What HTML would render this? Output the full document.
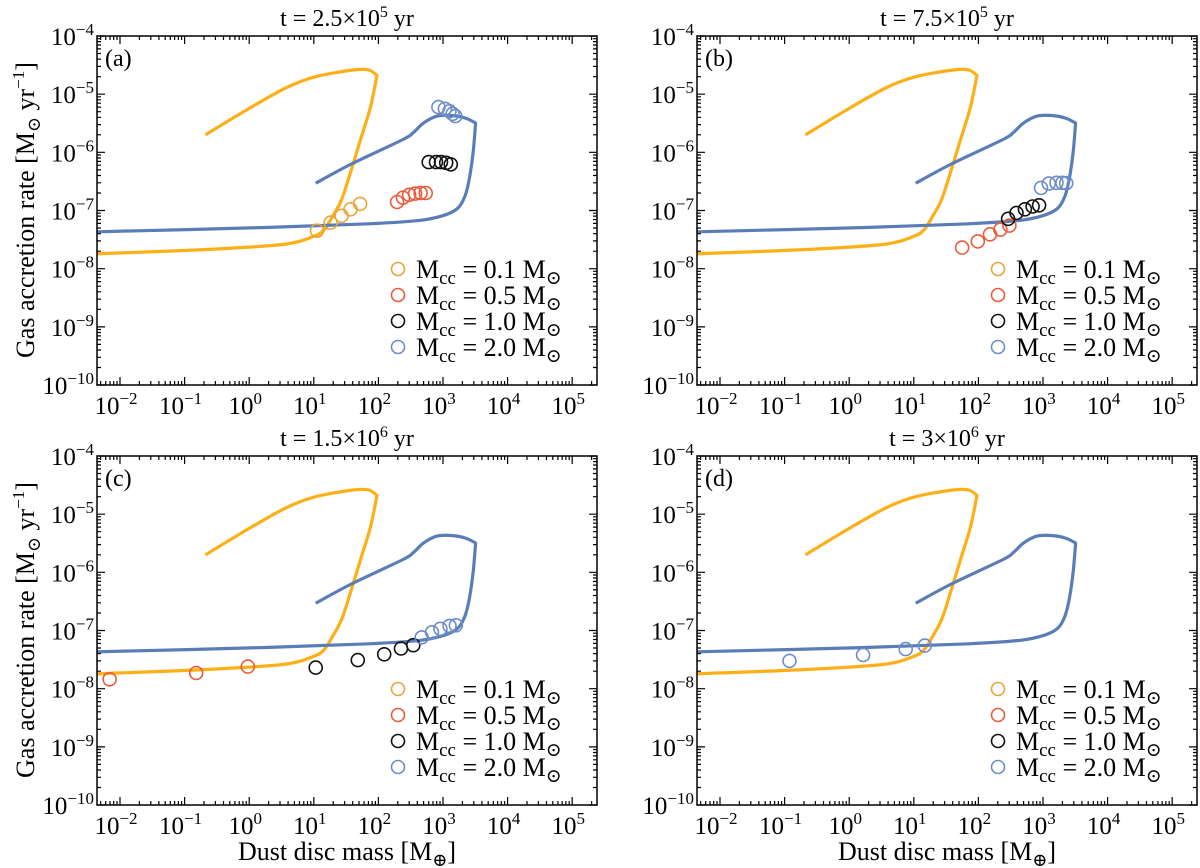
<!DOCTYPE html>
<html><head><meta charset="utf-8"><style>
html,body{margin:0;padding:0;background:#fff;}
svg{display:block;font-family:"Liberation Serif","DejaVu Serif",serif;}
</style></head><body>
<svg id="fig" width="1200" height="868" viewBox="0 0 1200 868" xmlns="http://www.w3.org/2000/svg"></svg>
<script>
// ---- data ----
const yellowCurveX = [0.21,0.92,3.8,10.7,41,71,95,76,55,38,27,19.5,14.5,10,3.3,0.16,0.0044];
const yellowCurveY = [2.0e-6,5.4e-6,1.3e-5,2.0e-5,2.6e-5,2.6e-5,2.1e-5,6.2e-6,1.9e-6,5.0e-7,1.55e-7,7.9e-8,4.7e-8,3.6e-8,2.6e-8,2.1e-8,1.8e-8];
const blueCurveX = [10.7,38,240,350,500,810,1350,2200,3200,2950,2600,2200,1700,1050,450,71,1.8,0.0044];
const blueCurveY = [2.95e-7,6.3e-7,1.66e-6,2.2e-6,3.2e-6,4.2e-6,4.3e-6,3.9e-6,3.2e-6,1.1e-6,3.9e-7,1.8e-7,1.1e-7,8.3e-8,6.8e-8,5.9e-8,5.1e-8,4.3e-8];

const aYellowX = [11.2,18.2,26.9,37,52];
const aYellowY = [4.5e-8,6.2e-8,8.1e-8,1.05e-7,1.3e-7];
const aRedX = [195,240,300,370,450,540];
const aRedY = [1.4e-7,1.66e-7,1.86e-7,1.95e-7,2.0e-7,2.0e-7];
const aBlackX = [600,780,930,1120,1320];
const aBlackY = [6.8e-7,6.8e-7,6.8e-7,6.6e-7,6.2e-7];
const aBlueX = [850,1070,1260,1410,1550];
const aBlueY = [6.0e-6,5.6e-6,5.1e-6,4.6e-6,4.2e-6];

const bRedX = [56,98,151,219,302];
const bRedY = [2.3e-8,2.95e-8,3.9e-8,4.7e-8,5.5e-8];
const bBlackX = [288,389,525,690,870];
const bBlackY = [7.2e-8,9.1e-8,1.05e-7,1.17e-7,1.23e-7];
const bBlueX = [930,1230,1620,2000,2290];
const bBlueY = [2.45e-7,2.9e-7,3.0e-7,3.0e-7,2.95e-7];

const cRedX = [0.0069,0.151,0.95];
const cRedY = [1.45e-8,1.86e-8,2.4e-8];
const cBlackX = [10.7,48,123,224,347];
const cBlackY = [2.3e-8,3.1e-8,3.9e-8,4.9e-8,5.6e-8];
const cBlueX = [468,676,912,1260,1585];
const cBlueY = [7.6e-8,9.3e-8,1.07e-7,1.2e-7,1.23e-7];

const dBlueX = [0.119,1.64,7.5,14.8];
const dBlueY = [3.0e-8,3.8e-8,4.8e-8,5.5e-8];

const panelTitles = ["2.5×10","7.5×10","1.5×10","3×10"];
const panelTitleExp = ["5","5","6","6"];
const panelLetters = ["(a)","(b)","(c)","(d)"];
const xTickExps = [-2,-1,0,1,2,3,4,5];
const yTickExps = [-4,-5,-6,-7,-8,-9,-10];
const legendLabels = ["0.1","0.5","1.0","2.0"];

// ---- style ----
const COL_Y = "#FDAF17", COL_B = "#5A7DB8";
const C_Y = "#E8A53C", C_R = "#EC5A3A", C_K = "#111", C_B = "#6C8DC8";
const NS = "http://www.w3.org/2000/svg";
const svg = document.getElementById('fig');
function el(tag, attrs, parent){ const e=document.createElementNS(NS,tag); for(const k in attrs) e.setAttribute(k,attrs[k]); (parent||svg).appendChild(e); return e; }

const offX=[0,600,0,600], offY=[0,0,420,420];
const L=97, R=597, T=36, B=385;
function xs(v,p){ return offX[p] + 120 + 64.6*(Math.log10(v)+2); }
function ys(v,p){ return offY[p] + T + 58.17*(-4 - Math.log10(v)); }

// smooth path with sharp corner at the point of maximum x
function smoothPath(pts){
  let cornerIdx=0;
  pts.forEach((q,i)=>{ if(q[0]>pts[cornerIdx][0]) cornerIdx=i; });
  let d='M'+pts[0][0].toFixed(1)+','+pts[0][1].toFixed(1);
  const k=0.15;
  for(let i=0;i<pts.length-1;i++){
    let p0=pts[Math.max(0,i-1)], p1=pts[i], p2=pts[i+1], p3=pts[Math.min(pts.length-1,i+2)];
    if(i===cornerIdx) p0=p1;
    if(i+1===cornerIdx) p3=p2;
    const c1=[p1[0]+(p2[0]-p0[0])*k, p1[1]+(p2[1]-p0[1])*k];
    const c2=[p2[0]-(p3[0]-p1[0])*k, p2[1]-(p3[1]-p1[1])*k];
    d+=`C${c1[0].toFixed(1)},${c1[1].toFixed(1)} ${c2[0].toFixed(1)},${c2[1].toFixed(1)} ${p2[0].toFixed(1)},${p2[1].toFixed(1)}`;
  }
  return d;
}

const panelSeries = [
  [[aYellowX,aYellowY,C_Y],[aRedX,aRedY,C_R],[aBlackX,aBlackY,C_K],[aBlueX,aBlueY,C_B]],
  [[bRedX,bRedY,C_R],[bBlackX,bBlackY,C_K],[bBlueX,bBlueY,C_B]],
  [[cRedX,cRedY,C_R],[cBlackX,cBlackY,C_K],[cBlueX,cBlueY,C_B]],
  [[dBlueX,dBlueY,C_B]]
];
const seriesNames = {};
seriesNames[C_Y]="mcc-0.1"; seriesNames[C_R]="mcc-0.5"; seriesNames[C_K]="mcc-1.0"; seriesNames[C_B]="mcc-2.0";

for(let p=0;p<4;p++){
  const g = el('g',{});
  
  
  const ox=offX[p], oy=offY[p];
  const clipId='clip'+p;
  const cp = el('clipPath',{id:clipId},g);
  el('rect',{x:ox+L,y:oy+T,width:R-L,height:B-T},cp);

  [[yellowCurveX,yellowCurveY,COL_Y,'yellow-curve'],[blueCurveX,blueCurveY,COL_B,'blue-curve']].forEach(c=>{
    const pts = c[0].map((v,i)=>[xs(v,p), ys(c[1][i],p)]);
    const path = el('path',{d:smoothPath(pts),fill:'none',stroke:c[2],'stroke-width':3.2,'stroke-linejoin':'round','clip-path':'url(#'+clipId+')'},g);
    
    
  });
  panelSeries[p].forEach(s=>{
    s[0].forEach((v,i)=>{
      const c = el('circle',{cx:xs(v,p).toFixed(1),cy:ys(s[1][i],p).toFixed(1),r:6.5,fill:'none',stroke:s[2],'stroke-width':1.6},g);
      
      
    });
  });
  const fr = el('rect',{x:ox+L,y:oy+T,width:R-L,height:B-T,fill:'none',stroke:'#000','stroke-width':1.5},g);
  
  
  let tk='';
  for(let e=-3;e<=5;e++){
    for(let m=1;m<10;m++){
      const v=m*Math.pow(10,e); const x=xs(v,p);
      if(x<ox+L+0.5||x>ox+R-0.5) continue;
      const len = m===1?8:4;
      tk+=`M${x.toFixed(1)},${oy+B}v${-len}M${x.toFixed(1)},${oy+T}v${len}`;
    }
  }
  for(let e=-10;e<=-4;e++){
    for(let m=1;m<10;m++){
      const v=m*Math.pow(10,e); const y=ys(v,p);
      if(y<oy+T-0.5||y>oy+B+0.5) continue;
      const len = m===1?8:4;
      tk+=`M${ox+L},${y.toFixed(1)}h${len}M${ox+R},${y.toFixed(1)}h${-len}`;
    }
  }
  const tp = el('path',{d:tk,stroke:'#000','stroke-width':1.2,fill:'none'},g);
  
  
  xTickExps.forEach(e=>{
    const t = el('text',{x:xs(Math.pow(10,e),p)-4,y:oy+B+29,'font-size':25,'text-anchor':'middle'},g);
    
    
    t.innerHTML = '10<tspan dy="-10" font-size="17">'+(e<0?'−'+(-e):e)+'</tspan>';
  });
  yTickExps.forEach(e=>{
    const t = el('text',{x:ox+L-3,y:ys(Math.pow(10,e),p)+9,'font-size':25,'text-anchor':'end'},g);
    
    
    t.innerHTML = '10<tspan dy="-10" font-size="17">−'+(-e)+'</tspan>';
  });
  const ti = el('text',{x:ox+347,y:oy+26,'font-size':24,'text-anchor':'middle'},g);
  
  
  ti.innerHTML = 't = '+panelTitles[p]+'<tspan dy="-9" font-size="16">'+panelTitleExp[p]+'</tspan><tspan dy="9"> yr</tspan>';
  const lt = el('text',{x:ox+105,y:oy+66,'font-size':24},g);
  
  
  lt.textContent = panelLetters[p];
  const lg = el('g',{},g);
  
  
  const legCols=[C_Y,C_R,C_K,C_B];
  legendLabels.forEach((lab,i)=>{
    const yy = oy+269+26*i;
    const c = el('circle',{cx:ox+398,cy:yy,r:6.5,fill:'none',stroke:legCols[i],'stroke-width':1.6},lg);
    
    
    const t = el('text',{x:ox+416,y:yy+9,'font-size':26},lg);
    
    
    t.innerHTML = 'M<tspan dy="6" font-size="19">cc</tspan><tspan dy="-6"> = '+lab+' M</tspan><tspan dy="6" font-size="19">⊙</tspan>';
  });
}
[0,420].forEach((oy,i)=>{
  const t = el('text',{x:0,y:0,'font-size':26,'text-anchor':'middle',transform:`translate(34,${oy+210}) rotate(-90)`});
  
  
  t.innerHTML = 'Gas accretion rate [M<tspan dy="6" font-size="18">⊙</tspan><tspan dy="-6"> yr</tspan><tspan dy="-10" font-size="17">−1</tspan><tspan dy="10">]</tspan>';
});
[0,600].forEach(ox=>{
  const t = el('text',{x:ox+347,y:860,'font-size':26,'text-anchor':'middle'});
  
  
  t.innerHTML = 'Dust disc mass [M<tspan dy="6" font-size="18">⊕</tspan><tspan dy="-6">]</tspan>';
});
</script>
</body></html>
